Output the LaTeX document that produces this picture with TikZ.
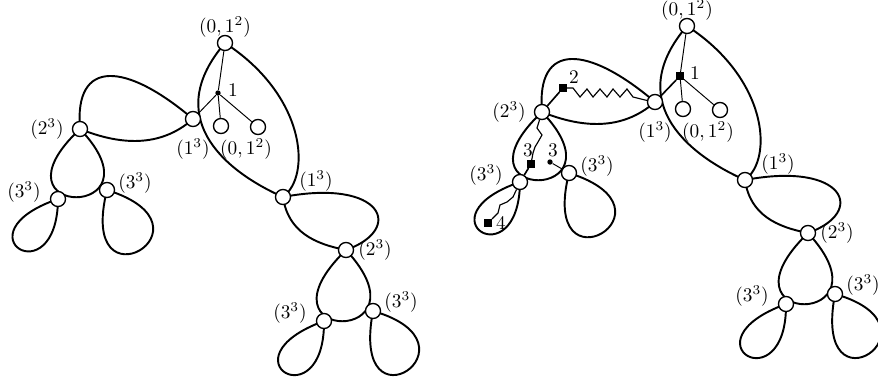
\documentclass[tikz,border=0pt]{standalone}
\usetikzlibrary{backgrounds}
\newcommand\cactustree[3]{%
  % vertices
  \node[vtx] (#1T) at (225,43) {};
  \node[#2] (#1D) at (218,93) {};
  \node[vtx] (#1A) at (193,119) {};
  \node[vtx] (#1c) at (221,126) {};
  \node[vtx] (#1d) at (258,127) {};
  \node[vtx] (#1B) at (283,197) {};
  \node[vtx] (#1E) at (80,129) {};
  \node[vtx] (#1F) at (58,199) {};
  \node[vtx] (#1G) at (107,190) {};
  \node[vtx] (#1H) at (346,250) {};
  \node[vtx] (#1I) at (324,321) {};
  \node[vtx] (#1J) at (373,311) {};
  % labels
  \node[lbl] (#1lT) at (225,27) {$(0,1^2)$};
  \node[lbl] (#1lD) at (233,90) {$1$};
  \node[lbl] (#1lA) at (193,149) {$(1^3)$};
  \node[lbl] (#1lc) at (246,149) {$(0,1^2)$};
  \node[lbl] (#1lB) at (316,181) {$(1^3)$};
  \node[lbl] (#1lE) at (47,129) {$(2^3)$};
  \node[lbl] (#1lF) at (24,192) {$(3^3)$};
  \node[lbl] (#1lG) at (135,183) {$(3^3)$};
  \node[lbl] (#1lH) at (375,250) {$(2^3)$};
  \node[lbl] (#1lI) at (290,313) {$(3^3)$};
  \node[lbl] (#1lJ) at (401,302) {$(3^3)$};
  % cycles, behind the vertices
  \begin{pgfonlayer}{background}
    \draw[loopln] (#1T.center) .. controls (163,115) and (220,169) .. (#1B.center);
    \draw[loopln] (#1T.center) .. controls (305,95) and (312,175) .. (#1B.center);
    \draw[loopln] (#1A.center) .. controls (126,62) and (74,58) .. (#1E.center)
                               .. controls (120,145) and (160,148) .. (#1A.center);
    \draw[loopln] (#1E.center) .. controls (-17,220) and (167,220) .. (#1E.center);
    \draw[loopln] (#1F.center) .. controls (-44,234) and (57,297) .. (#1F.center);
    \draw[loopln] (#1G.center) .. controls (225,227) and (76,314) .. (#1G.center);
    \draw[loopln] (#1B.center) .. controls (383,178) and (405,229) .. (#1H.center)
                               .. controls (315,244) and (288,232) .. (#1B.center);
    \draw[loopln] (#1H.center) .. controls (248,345) and (434,345) .. (#1H.center);
    \draw[loopln] (#1I.center) .. controls (220,359) and (325,421) .. (#1I.center);
    \draw[loopln] (#1J.center) .. controls (488,344) and (349,437) .. (#1J.center);
  \end{pgfonlayer}
  % thin spokes of the marked vertex
  \draw[thinln] (#1D) -- (#1T);
  \draw[#3] (#1D) -- (#1A);
  \draw[thinln] (#1D) -- (#1c);
  \draw[thinln] (#1D) -- (#1d);
}
\begin{document}
\begin{tikzpicture}[x=0.518pt,y=-0.518pt,
  vtx/.style={circle,draw,fill=white,inner sep=0pt,minimum size=7.8pt,line width=0.7pt},
  sqn/.style={rectangle,fill=black,inner sep=0pt,minimum size=3.8pt},
  dotn/.style={circle,fill=black,inner sep=0pt,minimum size=2.8pt},
  loopln/.style={line width=1pt},
  thinln/.style={line width=0.5pt},
  wigln/.style={line width=0.6pt,line join=miter},
  medln/.style={line width=0.85pt},
  lbl/.style={inner sep=0pt}]
\useasboundingbox (0,0) rectangle (878,385);

% left figure
\cactustree{L}{dotn}{thinln}

% right figure: the same tree, shifted, with extra marks
\begin{scope}[shift={(462,-17)}]
  \cactustree{R}{sqn}{medln}
\end{scope}

\node[sqn] (S2) at (563,88) {};
\node[lbl] (lS2) at (574,77) {$2$};
\node[sqn] (S3) at (531,164) {};
\node[lbl] (lS3) at (528,150) {$3$};
\node[dotn] (d3) at (550,162) {};
\node[lbl] (ld3) at (553,150) {$3$};
\node[sqn] (S4) at (488,223) {};
\node[lbl] (lS4) at (501,223) {$4$};

\draw[medln] (S2) -- (RE);
\draw[wigln] (S2) -- (573,88) -- (580,97) -- (587,89) -- (593,97) -- (600,89) -- (607,97) -- (613,89) -- (620,97) -- (627,89) -- (633,97) -- (645,100) -- (RA);
\draw[wigln] (RE) -- (537,128) -- (542,135) -- (538,142) -- (535,147) -- (533,153) -- (S3);
\draw[medln] (S3) -- (RF);
\draw[thinln] (d3) -- (RG);
\draw[wigln] (RF) -- (513,197) -- (507,202) -- (500,205) -- (498,213) -- (493,218) -- (S4);
\end{tikzpicture}
\end{document}
